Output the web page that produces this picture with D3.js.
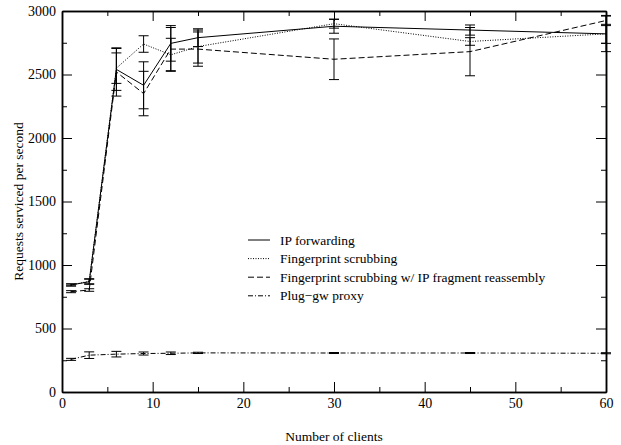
<!DOCTYPE html>
<meta charset="utf-8">
<html lang="en">
<head>
    <title>Requests serviced per second</title>
    <script src="https://d3js.org/d3.v7.min.js"></script>
</head>
<style>
    body { margin: 0; background: #fff; }
    text { font-family: "Liberation Serif", "Times New Roman", serif; fill: #000; }
    .axis text { font-size: 14px; }
    .axis path, .axis line { stroke: #000; }
    .axis path { stroke-width: 1.5px; }
    .series { fill: none; stroke: #000; stroke-width: 1px; }
    .err { stroke: #000; stroke-width: 1px; }
    .label { font-size: 13.5px; }
</style>
<body>
<script>
    // number of clients on the x axis
    var clients = [1, 3, 6, 9, 12, 15, 30, 45, 60];

    var ipForwarding = [843, 868, 2540, 2415, 2745, 2790, 2880, 2850, 2820];
    var ipForwardingErr = [8, 20, 165, 185, 140, 70, 55, 40, 75];

    var fpScrub = [843, 872, 2550, 2740, 2655, 2720, 2900, 2760, 2820];
    var fpScrubErr = [8, 20, 120, 65, 130, 130, 35, 30, 140];

    var fpReassembly = [790, 803, 2520, 2350, 2700, 2700, 2620, 2680, 2925];
    var fpReassemblyErr = [8, 10, 190, 175, 170, 135, 160, 190, 40];

    var plugProxy = [257, 290, 298, 303, 305, 308, 307, 307, 305];
    var plugProxyErr = [8, 26, 22, 12, 10, 5, 4, 4, 4];

    var seriesNames = ["IP forwarding", "Fingerprint scrubbing",
        "Fingerprint scrubbing w/ IP fragment reassembly", "Plug\u2212gw proxy"];
    var dashes = ["none", "1,1.5", "6,3", "5,2,1,2"];

    var xMajor = [0, 10, 20, 30, 40, 50, 60];
    var xMinor = [5, 15, 25, 35, 45, 55];
    var yMajor = [0, 500, 1000, 1500, 2000, 2500, 3000];
    var yMinor = [250, 750, 1250, 1750, 2250, 2750];

    var series = [
        {name: seriesNames[0], vals: ipForwarding, err: ipForwardingErr, dash: dashes[0]},
        {name: seriesNames[1], vals: fpScrub, err: fpScrubErr, dash: dashes[1]},
        {name: seriesNames[2], vals: fpReassembly, err: fpReassemblyErr, dash: dashes[2]},
        {name: seriesNames[3], vals: plugProxy, err: plugProxyErr, dash: dashes[3]}
    ];

    var W = 621, H = 445;
    var pLeft = 62, pRight = 606, pTop = 11, pBottom = 392;

    var svg = d3.select("body").append("svg").attr("width", W).attr("height", H);

    var x = d3.scaleLinear().domain([0, 60]).range([pLeft, pRight]);
    var y = d3.scaleLinear().domain([0, 3000]).range([pBottom, pTop]);
    var fmt = d3.format("d");

    // axes, ticks pointing inward on all four sides
    svg.append("g").attr("class", "axis").attr("transform", "translate(0," + pBottom + ")")
        .call(d3.axisBottom(x).tickValues(xMajor).tickFormat(fmt).tickSizeInner(-10).tickSizeOuter(0).tickPadding(6));
    svg.append("g").attr("class", "axis").attr("transform", "translate(0," + pBottom + ")")
        .call(d3.axisBottom(x).tickValues(xMinor).tickSizeInner(-5).tickSizeOuter(0).tickFormat(""));
    svg.append("g").attr("class", "axis").attr("transform", "translate(0," + pTop + ")")
        .call(d3.axisTop(x).tickValues(xMajor).tickSizeInner(-10).tickSizeOuter(0).tickFormat(""));
    svg.append("g").attr("class", "axis").attr("transform", "translate(0," + pTop + ")")
        .call(d3.axisTop(x).tickValues(xMinor).tickSizeInner(-5).tickSizeOuter(0).tickFormat(""));

    svg.append("g").attr("class", "axis").attr("transform", "translate(" + pLeft + ",0)")
        .call(d3.axisLeft(y).tickValues(yMajor).tickFormat(fmt).tickSizeInner(-10).tickSizeOuter(0).tickPadding(6));
    svg.append("g").attr("class", "axis").attr("transform", "translate(" + pLeft + ",0)")
        .call(d3.axisLeft(y).tickValues(yMinor).tickSizeInner(-5).tickSizeOuter(0).tickFormat(""));
    svg.append("g").attr("class", "axis").attr("transform", "translate(" + pRight + ",0)")
        .call(d3.axisRight(y).tickValues(yMajor).tickSizeInner(-10).tickSizeOuter(0).tickFormat(""));
    svg.append("g").attr("class", "axis").attr("transform", "translate(" + pRight + ",0)")
        .call(d3.axisRight(y).tickValues(yMinor).tickSizeInner(-5).tickSizeOuter(0).tickFormat(""));

    // axis titles
    svg.append("text").attr("class", "label")
        .attr("x", (pLeft + pRight) / 2).attr("y", 441)
        .attr("text-anchor", "middle").text("Number of clients");
    svg.append("text").attr("class", "label")
        .attr("transform", "translate(23," + ((pTop + pBottom) / 2) + ") rotate(-90)")
        .attr("text-anchor", "middle").text("Requests serviced per second");

    var line = d3.line()
        .x(function (d, i) { return x(clients[i]); })
        .y(function (d) { return y(d); });

    series.forEach(function (s) {
        svg.append("path").attr("class", "series")
            .attr("d", line(s.vals))
            .style("stroke-dasharray", s.dash);

        var g = svg.append("g");
        s.vals.forEach(function (v, i) {
            var cx = x(clients[i]), lo = y(v - s.err[i]), hi = y(v + s.err[i]);
            g.append("line").attr("class", "err").attr("x1", cx).attr("x2", cx).attr("y1", lo).attr("y2", hi);
            g.append("line").attr("class", "err").attr("x1", cx - 5).attr("x2", cx + 5).attr("y1", lo).attr("y2", lo);
            g.append("line").attr("class", "err").attr("x1", cx - 5).attr("x2", cx + 5).attr("y1", hi).attr("y2", hi);
        });
    });

    // legend
    var legend = svg.append("g").attr("transform", "translate(248,240)");
    series.forEach(function (s, i) {
        var row = legend.append("g").attr("transform", "translate(0," + (i * 18.6) + ")");
        row.append("line").attr("class", "series").attr("x1", 0).attr("x2", 22)
            .attr("y1", 0).attr("y2", 0).style("stroke-dasharray", s.dash);
        row.append("text").attr("class", "label").attr("x", 32).attr("y", 4.5).text(s.name);
    });
</script>
</body>
</html>
